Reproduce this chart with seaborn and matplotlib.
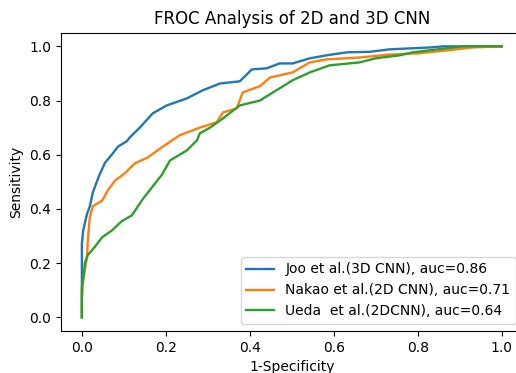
import pandas as pd
import matplotlib
matplotlib.use('Agg')
import matplotlib.pyplot as plt
import seaborn as sns

# curve points (1-specificity, sensitivity)
joo_fpr = [0, 0, 0.003, 0.012, 0.019, 0.026, 0.033, 0.043, 0.055, 0.071, 0.086, 0.107, 0.114,
           0.138, 0.169, 0.202, 0.25, 0.288, 0.329, 0.376, 0.405, 0.44, 0.471, 0.502, 0.543,
           0.583, 0.631, 0.686, 0.733, 0.83, 0.86, 1.0]
joo_tpr = [0, 0.27, 0.32, 0.38, 0.41, 0.46, 0.49, 0.53, 0.57, 0.60, 0.63, 0.65, 0.664,
           0.70, 0.753, 0.782, 0.808, 0.838, 0.863, 0.871, 0.915, 0.919, 0.937, 0.937, 0.956,
           0.967, 0.978, 0.98, 0.989, 0.996, 1.0, 1.0]

nakao_fpr = [0, 0, 0.003, 0.012, 0.014, 0.019, 0.026, 0.048, 0.062, 0.079, 0.102, 0.126, 0.157,
             0.19, 0.233, 0.281, 0.321, 0.336, 0.369, 0.383, 0.424, 0.448, 0.502, 0.543, 0.583,
             0.662, 0.733, 0.80, 0.869, 0.93, 1.0]
nakao_tpr = [0, 0.07, 0.14, 0.22, 0.28, 0.37, 0.41, 0.43, 0.469, 0.505, 0.531, 0.568, 0.59,
             0.627, 0.672, 0.70, 0.72, 0.756, 0.771, 0.83, 0.853, 0.885, 0.904, 0.941, 0.952,
             0.959, 0.97, 0.974, 0.985, 0.996, 1.0]

ueda_fpr = [0, 0, 0.005, 0.007, 0.014, 0.031, 0.048, 0.071, 0.095, 0.119, 0.143, 0.167, 0.19,
            0.21, 0.25, 0.274, 0.281, 0.305, 0.336, 0.376, 0.424, 0.455, 0.471, 0.502, 0.543,
            0.59, 0.662, 0.70, 0.757, 0.788, 0.869, 0.907, 1.0]
ueda_tpr = [0, 0.11, 0.16, 0.20, 0.23, 0.26, 0.295, 0.32, 0.355, 0.376, 0.432, 0.48, 0.525,
            0.579, 0.616, 0.653, 0.679, 0.70, 0.734, 0.782, 0.80, 0.83, 0.845, 0.875, 0.904,
            0.93, 0.941, 0.956, 0.967, 0.978, 0.993, 1.0, 1.0]

labels = ['Joo et al.(3D CNN), auc=0.86',
          'Nakao et al.(2D CNN), auc=0.71',
          'Ueda  et al.(2DCNN), auc=0.64']

frames = []
for lab, fx, ty in zip(labels, [joo_fpr, nakao_fpr, ueda_fpr], [joo_tpr, nakao_tpr, ueda_tpr]):
    frames.append(pd.DataFrame({'fpr': fx, 'tpr': ty, 'model': lab}))
df = pd.concat(frames, ignore_index=True)

fig = plt.figure(figsize=(5.16, 3.73), dpi=100)
ax = fig.add_axes([0.118, 0.113, 0.895, 0.799])

sns.lineplot(data=df, x='fpr', y='tpr', hue='model', palette=['#1f77b4', '#ff7f0e', '#2ca02c'],
             estimator=None, sort=False, linewidth=1.7, ax=ax)

ax.set_xlim(-0.05, 1.05)
ax.set_ylim(-0.05, 1.05)
ax.set_xticks([0, 0.2, 0.4, 0.6, 0.8, 1.0])
ax.set_yticks([0, 0.2, 0.4, 0.6, 0.8, 1.0])
ax.set_title('FROC Analysis of 2D and 3D CNN')
ax.set_xlabel('1-Specificity')
ax.set_ylabel('Sensitivity')
ax.legend(loc='lower right', title=None)

fig.savefig('out.png', dpi=100)
